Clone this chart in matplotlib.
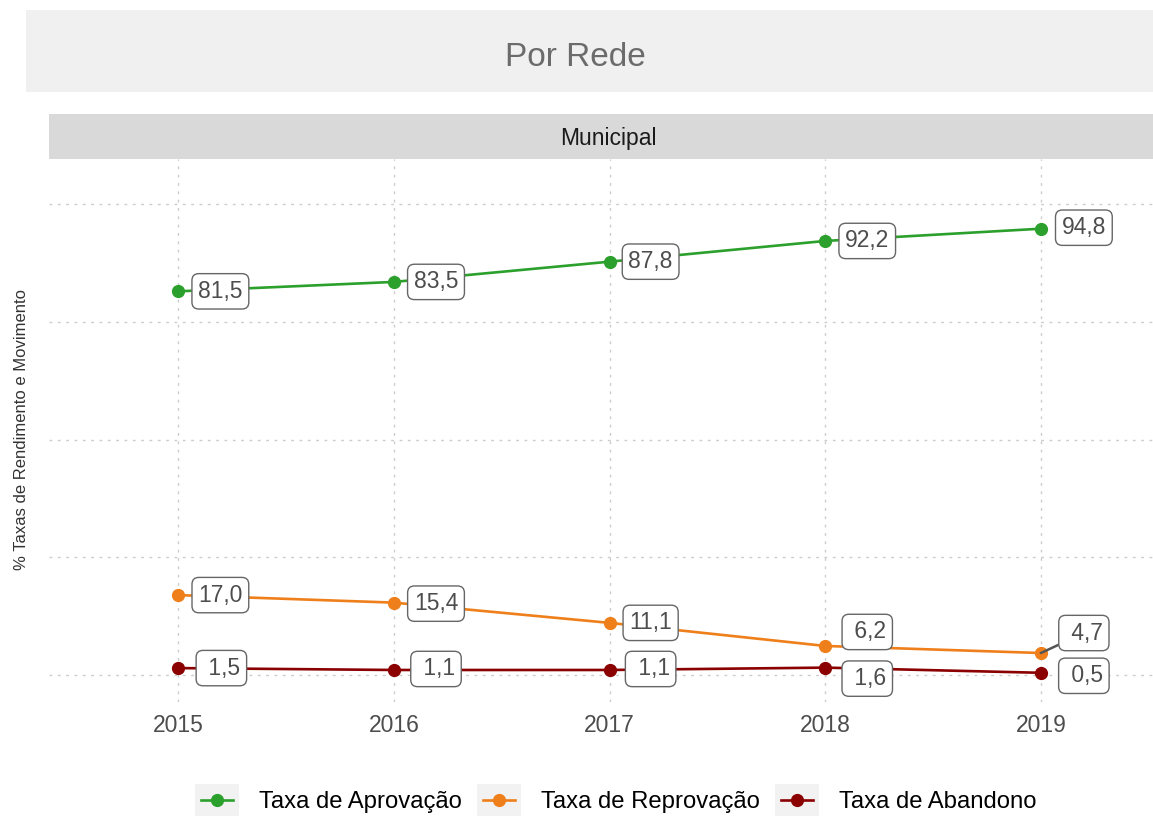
import matplotlib
matplotlib.use('Agg')
import matplotlib.pyplot as plt
from matplotlib.patches import Rectangle
from matplotlib.lines import Line2D
from matplotlib.legend_handler import HandlerBase

plt.rcParams['font.family'] = ['Liberation Sans', 'DejaVu Sans']

anos = [2015, 2016, 2017, 2018, 2019]
aprovacao = [81.5, 83.5, 87.8, 92.2, 94.8]
reprovacao = [17.0, 15.4, 11.1, 6.2, 4.7]
abandono = [1.5, 1.1, 1.1, 1.6, 0.5]
series_nomes = ['Taxa de Aprovação', 'Taxa de Reprovação', 'Taxa de Abandono']
cores = ['#2ca02c', '#ee7f1b', '#8b0000']

# label offsets (pixels) so the boxes don't collide
desloc = [
    [(42, 0), (42, 0), (41, 0), (42, 0), (43, 1)],
    [(42, 0), (42, -1), (41, 0), (42, 14), (43, 20)],
    [(43, 0), (42, 1), (41, 1), (42, -11), (43, -3)],
]


class KeyHandler(HandlerBase):
    def create_artists(self, legend, orig_handle, xdescent, ydescent,
                       width, height, fontsize, trans):
        x0, y0 = -xdescent, -ydescent
        ym = y0 + height / 2
        bg = Rectangle((x0, y0), width, height, facecolor='#f2f2f2',
                       edgecolor='none', transform=trans)
        ln = Line2D([x0 + 0.14 * width, x0 + 0.86 * width], [ym, ym],
                    color=orig_handle.get_color(), lw=orig_handle.get_linewidth(),
                    transform=trans)
        mk = Line2D([x0 + width / 2], [ym], marker='o', ls='none',
                    ms=orig_handle.get_markersize(), color=orig_handle.get_color(),
                    transform=trans)
        return [bg, ln, mk]


fig = plt.figure(figsize=(11.53, 8.17), dpi=100)
ax = fig.add_axes([49 / 1153, 1 - 702 / 817, 1 - 49 / 1153, (702 - 159) / 817])

handles = []
for vals, cor, nome, offs in zip([aprovacao, reprovacao, abandono], cores, series_nomes, desloc):
    h, = ax.plot(anos, vals, color=cor, lw=1.9, marker='o', ms=8.5, label=nome, zorder=3)
    handles.append(h)
    for x, v, (dx, dy) in zip(anos, vals, offs):
        txt = f'{v:.1f}'.replace('.', ',')
        if v < 10:
            txt = ' ' + txt
        arrow = None
        if abs(dy) > 15:
            arrow = dict(arrowstyle='-', color='#555555', lw=1.8, shrinkA=0, shrinkB=0)
        ax.annotate(txt, (x, v), xytext=(dx, dy), textcoords='offset pixels',
                    ha='center', va='center', fontsize=16.5, color='#4d4d4d',
                    bbox=dict(boxstyle='round,pad=0.27,rounding_size=0.3',
                              fc='white', ec='#666666', lw=1),
                    arrowprops=arrow, zorder=4)

ax.set_xlim(2014.4, 2019.52)
ax.set_ylim(-5.7, 109.6)
ax.set_xticks(anos)
ax.set_yticks([0, 25, 50, 75, 100])
ax.set_yticklabels([])
ax.tick_params(length=0)
ax.tick_params(axis='x', labelsize=16.5, labelcolor='#4d4d4d', pad=9)
ax.grid(True, color='#cccccc', ls=(0, (2, 4)), lw=1)
ax.set_axisbelow(True)
for s in ax.spines.values():
    s.set_visible(False)

# title box and facet strip
fig.patches.append(Rectangle((26 / 1153, 1 - 92 / 817), 1 - 26 / 1153, 82 / 817,
                             transform=fig.transFigure, fc='#f0f0f0', ec='none', zorder=0))
fig.text(575 / 1153, 1 - 58 / 817, 'Por Rede', ha='center', va='center', fontsize=24,
         color='#6b6b6b')
fig.patches.append(Rectangle((49 / 1153, 1 - 159 / 817), 1 - 49 / 1153, 45 / 817,
                             transform=fig.transFigure, fc='#d9d9d9', ec='none', zorder=0))
fig.text(608 / 1153, 1 - 138 / 817, 'Municipal', ha='center', va='center',
         fontsize=16.5, color='#1a1a1a')

fig.text(22 / 1153, 1 - 430 / 817, '% Taxas de Rendimento e Movimento', rotation=90,
         ha='center', va='center', fontsize=12, color='#333333')

fig.legend(handles=handles, labels=series_nomes, loc='center',
           bbox_to_anchor=(616 / 1153, 1 - 800 / 817), bbox_transform=fig.transFigure,
           ncol=3, frameon=False, fontsize=17.2, handlelength=1.82, handleheight=1.7,
           handletextpad=0.85, columnspacing=0.64, borderpad=0,
           handler_map={Line2D: KeyHandler()})

fig.savefig('out.png', dpi=100)
